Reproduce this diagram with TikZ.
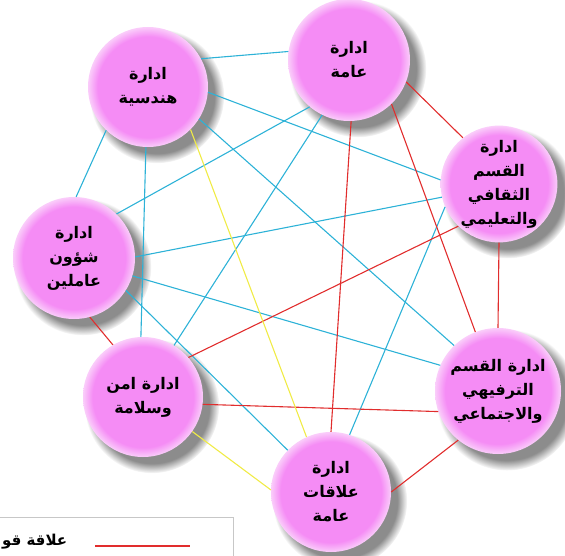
\documentclass[tikz,border=0pt]{standalone}
\usepackage{fontspec}
\usetikzlibrary{shadows,fadings}
\newfontfamily\arabicfont[Script=Arabic]{DejaVu Sans}
\TeXXeTstate=1
\newcommand{\rl}[1]{\beginR #1\endR}

% ball colours and the glow of the circles
\definecolor{ballpink}{RGB}{245,140,245}
\definecolor{ballrim}{RGB}{250,205,250}
\pgfdeclareradialshading{pinkglow}{\pgfpointorigin}{color(0bp)=(ballpink); color(21bp)=(ballpink); color(25bp)=(ballrim); color(50bp)=(ballrim)}

\begin{document}
\begin{tikzpicture}[x=1pt, y=-1pt,
  office/.style={circle, minimum size=120pt, inner sep=0pt, shading=pinkglow,
    circular drop shadow={shadow xshift=8pt, shadow yshift=-8pt, shadow scale=1.12, fill=black!60, opacity=.75},
    font=\arabicfont\bfseries\fontsize{16}{24}\selectfont, align=center, text=black},
  link/.style={line width=1.1pt}]

% Define colors for the relations
\definecolor{cyanlink}{RGB}{45,178,215}
\definecolor{redlink}{RGB}{225,45,45}
\definecolor{yellowlink}{RGB}{240,235,70}

\useasboundingbox (0,0) rectangle (565,556);

% Offices
\node[office] (eng) at (148,87) {\rl{ادارة}\\\rl{هندسية}};
\node[office, minimum size=122pt] (gen) at (349,60) {\rl{ادارة}\\\rl{عامة}};
\node[office, minimum size=116pt] (cult) at (499,184) {\rl{ادارة}\\\rl{القسم}\\\rl{الثقافي}\\\rl{والتعليمي}};
\node[office, minimum size=122pt] (staff) at (74,258) {\rl{ادارة}\\\rl{شؤون}\\\rl{عاملين}};
\node[office] (safe) at (143,397) {\rl{ادارة امن}\\\rl{وسلامة}};
\node[office, minimum size=126pt] (recr) at (498,391) {\rl{ادارة القسم}\\\rl{الترفيهي}\\\rl{والاجتماعي}};
\node[office] (pubrel) at (331,492) {\rl{ادارة}\\\rl{علاقات}\\\rl{عامة}};

% Cyan relations
\draw[link, cyanlink] (eng.28) -- (gen.172);
\draw[link, cyanlink] (eng.226) -- (staff.88);
\draw[link, cyanlink] (eng.268) -- (safe.92);
\draw[link, cyanlink] (eng.-5) -- (cult.176);
\draw[link, cyanlink] (eng.-32) -- (recr.134);
\draw[link, cyanlink] (gen.230) -- (staff.46);
\draw[link, cyanlink] (gen.244) -- (safe.59);
\draw[link, cyanlink] (cult.193) -- (staff.1);
\draw[link, cyanlink] (cult.203) -- (pubrel.72);
\draw[link, cyanlink] (staff.-17) -- (recr.156);
\draw[link, cyanlink] (staff.-32) -- (pubrel.136);

% Red relations
\draw[link, redlink] (gen.272) -- (pubrel.90);
\draw[link, redlink] (gen.314) -- (recr.111);
\draw[link, redlink] (gen.339) -- (cult.128);
\draw[link, redlink] (cult.270) -- (recr.90);
\draw[link, redlink] (cult.226) -- (safe.41);
\draw[link, redlink] (staff.-75) -- (safe.120);
\draw[link, redlink] (safe.-7) -- (recr.199);
\draw[link, redlink] (recr.231) -- (pubrel.0);

% Yellow relations
\draw[link, yellowlink] (eng.-45) -- (pubrel.114);
\draw[link, yellowlink] (safe.-35) -- (pubrel.178);

% Legend (cut by the edge)
\draw[black!22, line width=1pt] (-10,517) rectangle (233,580);
\coordinate (keyA) at (95,546);
\coordinate (keyB) at (190,546);
\draw[link, redlink] (keyA) -- (keyB);
\node[anchor=west, font=\arabicfont\bfseries\fontsize{15}{18}\selectfont, inner sep=0pt] (keytext) at (2,542) {\rl{علاقة قو}};
\end{tikzpicture}
\end{document}
